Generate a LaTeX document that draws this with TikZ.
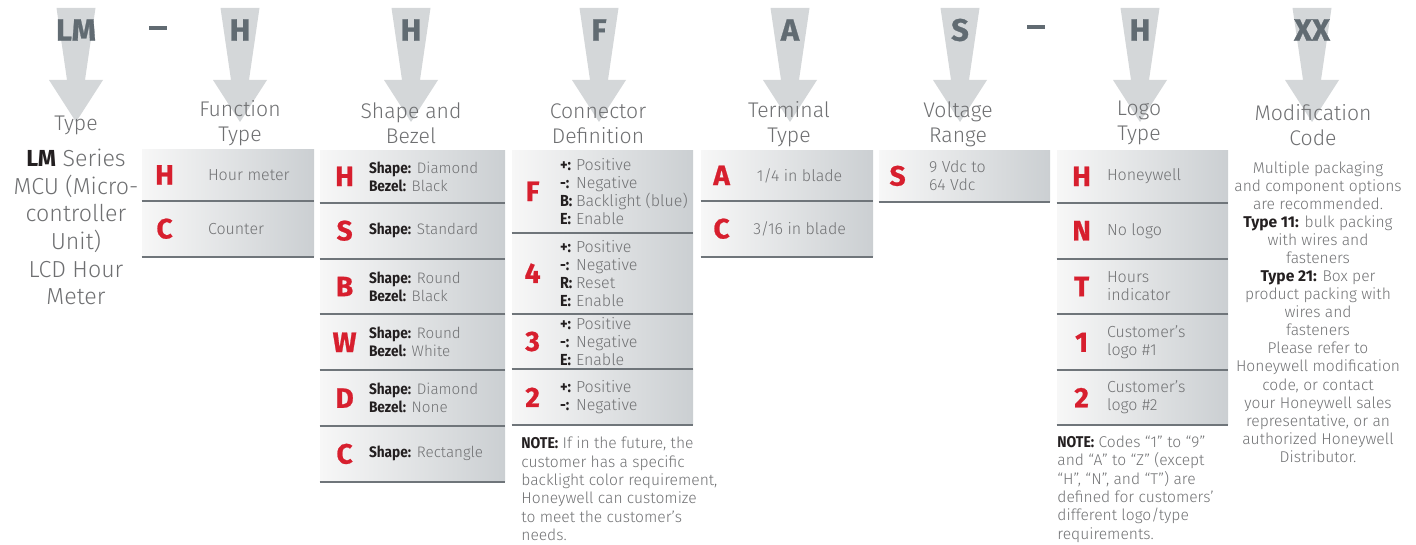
\documentclass[tikz,border=0pt]{standalone}
\usepackage{fontspec}
\setmainfont{Fira Sans}[UprightFont={* Light},BoldFont={* Bold}]
\newfontfamily\heavyfont{Fira Sans}[UprightFont={* Bold},FakeBold=0.8]
\newfontfamily\condfont{Fira Sans}[UprightFont={* Bold},FakeStretch=0.9]
\usetikzlibrary{positioning,calc}

\definecolor{codered}{HTML}{D71F2E}
\definecolor{arrowfill}{HTML}{D4D7D9}
\definecolor{arrowtext}{HTML}{616B72}
\definecolor{hdrgray}{HTML}{6E6F71}
\definecolor{txtgray}{HTML}{717274}
\definecolor{darktxt}{HTML}{231F20}
\definecolor{rowlight}{HTML}{F7F7F7}
\definecolor{rowdark}{HTML}{CBCFD2}
\definecolor{rowline}{HTML}{6F757A}

\newcommand\optlbl[1]{{\condfont\color{darktxt}#1}}
\newcommand\pinlbl[1]{\makebox[8pt][l]{\condfont\color{darktxt}#1}}

\begin{document}
\begin{tikzpicture}[x=0.5pt,y=-0.5pt]
  \useasboundingbox (0,0) rectangle (1416,545);
  \begin{scope}[
    codearrow/.style={
      fill=arrowfill,
    },
    codetext/.style={
      text=arrowtext,
      inner sep=0,
      font=\heavyfont\fontsize{15.5}{17}\selectfont,
    },
    ]
    % part number arrows
    \foreach \cx/\code/\name in {76/LM/aLM, 240/H/aFn, 411/H/aSh, 599/F/aCo,
                                 790/A/aTe, 960/S/aVo, 1140/H/aLo, 1312/XX/aMo} {
      \fill [codearrow] (\cx-19.5,8) -- (\cx+19.5,8) -- (\cx+9,80) -- (\cx+27,80)
        -- (\cx,122) -- (\cx-27,80) -- (\cx-9,80) -- cycle;
      \node [codetext] (\name) at (\cx,30) {\code};
    }
    \node [text=arrowtext, inner sep=0] (dash1) at (158,28) {\rule{9pt}{1.6pt}};
    \node [text=arrowtext, inner sep=0] (dash2) at (1036,27) {\rule{9pt}{1.6pt}};
  \end{scope}

  \begin{scope}[
    colhead/.style={
      text=hdrgray,
      align=center,
      inner sep=0,
      font=\fontsize{10.6}{12.5}\selectfont,
    },
    ]
    % column heads
    \node [colhead] (hLM) at (76,125) {Type};
    \node [colhead] (hFn) at (240,123) {Function\\Type};
    \node [colhead] (hSh) at (411,123) {Shape and\\Bezel};
    \node [colhead] (hCo) at (598,123.5) {Connector\\Definition};
    \node [colhead] (hTe) at (789,124) {Terminal\\Type};
    \node [colhead] (hVo) at (958,124) {Voltage\\Range};
    \node [colhead] (hLo) at (1139,123) {Logo\\Type};
    \node [colhead] (hMo) at (1313,125.5) {Modification\\Code};

    % LM series
    \node [colhead, font=\fontsize{11.6}{13.8}\selectfont] (lmtext) at (76,227)
      {{\bfseries\color{darktxt}LM} Series\\MCU (Micro-\\controller\\Unit)\\LCD Hour\\Meter};
  \end{scope}

  \begin{scope}[
    optrow/.style={
      rectangle,
      inner sep=0,
      anchor=north,
      left color=rowlight,
      right color=rowdark,
    },
    code/.style={
      text=codered,
      inner sep=0,
      font=\heavyfont\fontsize{14}{16}\selectfont,
    },
    desc/.style={
      text=txtgray,
      align=left,
      inner sep=0,
      anchor=west,
      font=\fontsize{8}{9}\selectfont,
    },
    ]
    % Function Type
    \node [optrow, minimum width=86pt, minimum height=25.5pt] (fnH) at (228,149) {};
    \node [optrow, minimum width=86pt, minimum height=27.5pt, below=0pt of fnH] (fnC) {};
    \foreach \r/\c/\d in {fnH/H/Hour meter, fnC/C/Counter} {
      \node [code] (\r c) at ([xshift=11.5pt]\r.west) {\c};
      \node [desc] (\r d) at ([xshift=33pt]\r.west) {\d};
    }

    % Shape and Bezel
    \node [optrow, minimum width=92.5pt, minimum height=26pt] (shH) at (412.5,150) {};
    \node [optrow, minimum width=92.5pt, minimum height=27.5pt, below=0pt of shH] (shS) {};
    \node [optrow, minimum width=92.5pt, minimum height=27.5pt, below=0pt of shS] (shB) {};
    \node [optrow, minimum width=92.5pt, minimum height=27.5pt, below=0pt of shB] (shW) {};
    \node [optrow, minimum width=92.5pt, minimum height=27.5pt, below=0pt of shW] (shD) {};
    \node [optrow, minimum width=92.5pt, minimum height=27.5pt, below=0pt of shD] (shC) {};
    \foreach \r/\c/\d in {shH/H/{\optlbl{Shape:} Diamond\\\optlbl{Bezel:} Black},
                          shS/S/{\optlbl{Shape:} Standard},
                          shB/B/{\optlbl{Shape:} Round\\\optlbl{Bezel:} Black},
                          shW/W/{\optlbl{Shape:} Round\\\optlbl{Bezel:} White},
                          shD/D/{\optlbl{Shape:} Diamond\\\optlbl{Bezel:} None},
                          shC/C/{\optlbl{Shape:} Rectangle}} {
      \node [code] (\r c) at ([xshift=12.5pt]\r.west) {\c};
      \node [desc, font=\fontsize{7.6}{9}\selectfont] (\r d) at ([xshift=24.5pt]\r.west) {\d};
    }

    % Connector Definition
    \node [optrow, minimum width=90.5pt, minimum height=41pt] (coF) at (602.5,150) {};
    \node [optrow, minimum width=90.5pt, minimum height=40pt, below=0pt of coF] (co4) {};
    \node [optrow, minimum width=90.5pt, minimum height=27.5pt, below=0pt of co4] (co3) {};
    \node [optrow, minimum width=90.5pt, minimum height=27.5pt, below=0pt of co3] (co2) {};
    \foreach \r/\c/\d in {coF/F/{\pinlbl{+:}Positive\\\pinlbl{-:}Negative\\\pinlbl{B:}Backlight (blue)\\\pinlbl{E:}Enable},
                          co4/4/{\pinlbl{+:}Positive\\\pinlbl{-:}Negative\\\pinlbl{R:}Reset\\\pinlbl{E:}Enable},
                          co3/3/{\pinlbl{+:}Positive\\\pinlbl{-:}Negative\\\pinlbl{E:}Enable},
                          co2/2/{\pinlbl{+:}Positive\\\pinlbl{-:}Negative}} {
      \node [code] (\r c) at ([xshift=10.5pt]\r.west) {\c};
      \node [desc] (\r d) at ([xshift=24pt]\r.west) {\d};
    }
    \node [desc, font=\fontsize{7.8}{9.2}\selectfont] (coNote) at (521,489)
      {\optlbl{NOTE:} If in the future, the\\customer has a specific\\backlight color requirement,\\Honeywell can customize\\to meet the customer’s\\needs.};

    % Terminal Type
    \node [optrow, minimum width=86pt, minimum height=25pt] (teA) at (787,150) {};
    \node [optrow, minimum width=86pt, minimum height=27.5pt, below=0pt of teA] (teC) {};
    \foreach \r/\c/\d in {teA/A/{1/4 in blade}, teC/C/{3/16 in blade}} {
      \node [code] (\r c) at ([xshift=10.5pt]\r.west) {\c};
      \node [desc, anchor=center] (\r d) at ([xshift=49.5pt]\r.west) {\d};
    }

    % Voltage Range
    \node [optrow, minimum width=85.5pt, minimum height=25.5pt] (voS) at (964.5,150) {};
    \node [code] (voSc) at ([xshift=9.5pt]voS.west) {S};
    \node [desc] (voSd) at ([xshift=25pt]voS.west) {9 Vdc to\\64 Vdc};

    % Logo Type
    \node [optrow, minimum width=85.5pt, minimum height=26pt] (loH) at (1142.5,150) {};
    \node [optrow, minimum width=85.5pt, minimum height=27.5pt, below=0pt of loH] (loN) {};
    \node [optrow, minimum width=85.5pt, minimum height=27.5pt, below=0pt of loN] (loT) {};
    \node [optrow, minimum width=85.5pt, minimum height=27.5pt, below=0pt of loT] (lo1) {};
    \node [optrow, minimum width=85.5pt, minimum height=27pt, below=0pt of lo1] (lo2) {};
    \foreach \r/\c/\d in {loH/H/Honeywell, loN/N/No logo, loT/T/{Hours\\indicator},
                          lo1/1/{Customer’s\\logo \#1}, lo2/2/{Customer’s\\logo \#2}} {
      \node [code] (\r c) at ([xshift=12.5pt]\r.west) {\c};
      \node [desc] (\r d) at ([xshift=25pt]\r.west) {\d};
    }
    \node [desc, font=\fontsize{7.8}{9.2}\selectfont] (loNote) at (1057,489)
      {\optlbl{NOTE:} Codes “1” to “9”\\and “A” to “Z” (except\\“H”, “N”, and “T”) are\\defined for customers’\\different logo/type\\requirements.};

    % row rules
    \foreach \r in {fnH,fnC,shH,shS,shB,shW,shD,shC,coF,co4,co3,co2,teA,teC,voS,loH,loN,loT,lo1,lo2}
      \draw [rowline, line width=1pt] (\r.south west) -- (\r.south east);

    % Modification Code
    \node [desc, anchor=center, align=center, font=\fontsize{7.8}{9.03}\selectfont] (moText) at (1318,312)
      {Multiple packaging\\and component options\\are recommended.\\
       {\bfseries\color{darktxt}Type 11:} bulk packing\\with wires and\\fasteners\\
       {\bfseries\color{darktxt}Type 21:} Box per\\product packing with\\wires and\\fasteners\\
       Please refer to\\Honeywell modification\\code, or contact\\your Honeywell sales\\
       representative, or an\\authorized Honeywell\\Distributor.};
  \end{scope}
\end{tikzpicture}
\end{document}
